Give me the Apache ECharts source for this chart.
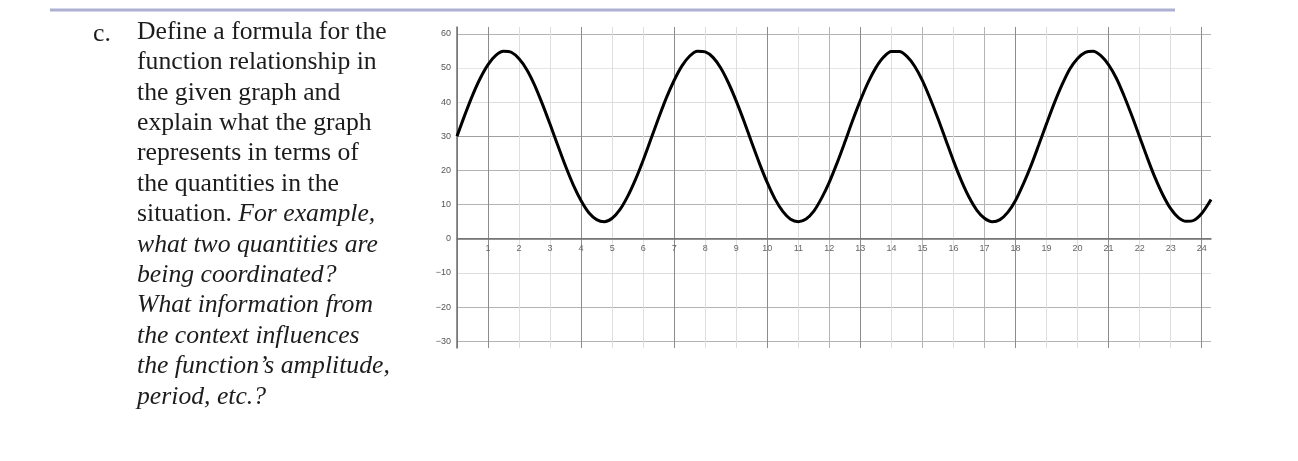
<!DOCTYPE html>
<html>
<head>
<meta charset="utf-8">
<script src="https://cdn.jsdelivr.net/npm/echarts@6/dist/echarts.min.js"></script>
<style>
  html, body { margin: 0; padding: 0; background: #fff; }
  #chart { width: 1298px; height: 461px; }
</style>
</head>
<body>
<div id="chart"></div>
<script>
// curve, every quarter unit (x in units, y in units)
const xs = [0, 0.25, 0.5, 0.75, 1, 1.25, 1.5, 1.75, 2, 2.25, 2.5, 2.75, 3, 3.25, 3.5, 3.75,
  4, 4.25, 4.5, 4.75, 5, 5.25, 5.5, 5.75, 6, 6.25, 6.5, 6.75, 7, 7.25, 7.5, 7.75,
  8, 8.25, 8.5, 8.75, 9, 9.25, 9.5, 9.75, 10, 10.25, 10.5, 10.75, 11, 11.25, 11.5, 11.75,
  12, 12.25, 12.5, 12.75, 13, 13.25, 13.5, 13.75, 14, 14.25, 14.5, 14.75, 15, 15.25, 15.5, 15.75,
  16, 16.25, 16.5, 16.75, 17, 17.25, 17.5, 17.75, 18, 18.25, 18.5, 18.75, 19, 19.25, 19.5, 19.75,
  20, 20.25, 20.5, 20.75, 21, 21.25, 21.5, 21.75, 22, 22.25, 22.5, 22.75, 23, 23.25, 23.5, 23.75,
  24, 24.25, 24.3]
const ys = [30.0, 36.2, 42.0, 47.0, 51.0, 53.7, 54.9, 54.6, 52.7, 49.5, 45.0, 39.5, 33.5, 27.3, 21.2, 15.7,
  11.1, 7.6, 5.6, 5.0, 6.0, 8.5, 12.4, 17.3, 23.0, 29.2, 35.4, 41.3, 46.4, 50.6, 53.5, 54.9,
  54.7, 53.1, 50.0, 45.6, 40.3, 34.4, 28.1, 22.0, 16.4, 11.6, 8.0, 5.7, 5.0, 5.8, 8.1, 11.9,
  16.6, 22.2, 28.3, 34.6, 40.5, 45.8, 50.1, 53.2, 54.8, 54.8, 53.4, 50.5, 46.3, 41.0, 35.2, 29.0,
  22.8, 17.1, 12.2, 8.4, 6.0, 5.0, 5.6, 7.7, 11.2, 16.0, 21.4, 27.5, 33.7, 39.7, 45.1, 49.7,
  52.8, 54.6, 54.9, 53.6, 50.9, 47.0, 41.8, 36.0, 29.8, 23.6, 17.8, 12.8, 8.8, 6.2, 5.1, 5.4,
  7.4, 10.7, 11.5]

const yTickLabels = [-30, -20, -10, 0, 10, 20, 30, 40, 50, 60]

const questionLines = [
  ['n', 'Define a formula for the'],
  ['n', 'function relationship in'],
  ['n', 'the given graph and'],
  ['n', 'explain what the graph'],
  ['n', 'represents in terms of'],
  ['n', 'the quantities in the'],
  ['mix', 'situation. ', 'For example,'],
  ['i', 'what two quantities are'],
  ['i', 'being coordinated?'],
  ['i', 'What information from'],
  ['i', 'the context influences'],
  ['i', 'the function’s amplitude,'],
  ['i', 'period, etc.?']
]

const chart = echarts.init(document.getElementById('chart'))

// grid line shades (the scanned graph has uneven line darkness)
const dark = '#8c8c8c', mid = '#b4b4b4', light = '#dedede', none = 'rgba(0,0,0,0)'
const xLineColors = []
for (let i = 0; i <= 25; i++) {
  let c = light
  if ([0, 1, 4, 7, 10, 13, 18, 21, 24].includes(i)) c = dark
  else if ([12, 15, 17].includes(i)) c = mid
  xLineColors.push(c)
}
const yShade = { '-30': mid, '-20': mid, '-10': light, '0': dark, '10': mid, '20': mid, '30': '#a0a0a0', '40': light, '50': '#e6e6e6', '60': mid }
const yLineColors = []
for (let v = -32; v <= 62; v += 2) {
  yLineColors.push(yShade[String(v)] || none)
}

const richText = questionLines.map(l => {
  if (l[0] === 'n') return '{n|' + l[1] + '}'
  if (l[0] === 'i') return '{i|' + l[1] + '}'
  return '{n|' + l[1] + '}{i|' + l[2] + '}'
}).join('\n')

const fontSize = 25.7
const lh = 30.4
const gridTop = 27, gridBottom = 113
// x axis sits at y = 0, moved up from the bottom of the grid
const plotH = 461 - gridTop - gridBottom
const zeroOffset = -plotH * (32 / 94)

const options = {
  animation: false,
  grid: { left: 457, right: 87, top: gridTop, bottom: gridBottom },
  xAxis: {
    type: 'value',
    position: 'bottom',
    offset: zeroOffset,
    min: 0,
    max: 24.3,
    interval: 1,
    axisLine: { onZero: false, lineStyle: { color: '#707070', width: 1.5 } },
    axisTick: { show: false },
    axisLabel: {
      margin: 5,
      fontSize: 9,
      color: '#666',
      fontFamily: 'Liberation Sans',
      formatter: v => (v > 0 && Number.isInteger(v)) ? String(v) : ''
    },
    splitLine: { show: true, showMaxLine: false, lineStyle: { color: xLineColors, width: 1 } }
  },
  yAxis: {
    type: 'value',
    min: -32,
    max: 62,
    interval: 2,
    axisLine: { show: true, onZero: false, lineStyle: { color: '#707070', width: 1.5 } },
    axisTick: { show: false },
    axisLabel: {
      margin: 6,
      fontSize: 9,
      color: '#555',
      fontFamily: 'Liberation Sans',
      formatter: v => yTickLabels.includes(v) ? String(v).replace('-', '\u2212') : ''
    },
    splitLine: { show: true, lineStyle: { color: yLineColors, width: 1 } }
  },
  graphic: [
    {
      type: 'rect',
      shape: { x: 50, y: 8.5, width: 1125, height: 3 },
      style: { fill: '#aeb0d2' }
    },
    {
      type: 'text',
      left: 93,
      top: 19,
      style: {
        text: 'c.',
        fontFamily: 'Liberation Serif',
        fontSize: fontSize,
        lineHeight: lh,
        fill: '#1c1c1c'
      }
    },
    {
      type: 'text',
      left: 137,
      top: 19,
      style: {
        text: richText,
        fill: '#1c1c1c',
        rich: {
          n: { fontFamily: 'Liberation Serif', fontSize: fontSize, lineHeight: lh, fill: '#1c1c1c' },
          i: { fontFamily: 'Liberation Serif', fontStyle: 'italic', fontSize: fontSize, lineHeight: lh, fill: '#1c1c1c' }
        }
      }
    }
  ],
  series: [{
    type: 'line',
    data: xs.map((x, i) => [x, ys[i]]),
    smooth: 0.3,
    showSymbol: false,
    lineStyle: { color: '#000', width: 3 }
  }]
}

chart.setOption(options)
</script>
</body>
</html>
